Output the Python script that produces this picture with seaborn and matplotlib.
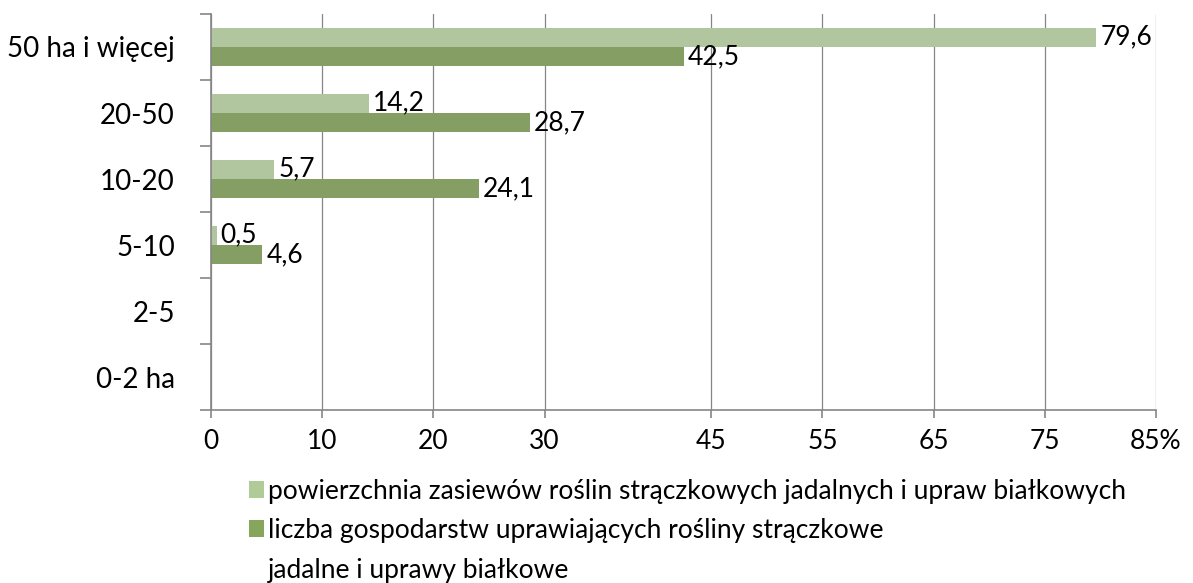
import matplotlib
matplotlib.use("Agg")
import matplotlib.pyplot as plt
from matplotlib.patches import Patch
from matplotlib.ticker import FixedLocator
import seaborn as sns
import pandas as pd

categories = ["50 ha i więcej", "20-50", "10-20", "5-10", "2-5", "0-2 ha"]
area_share = [79.6, 14.2, 5.7, 0.5, 0.0, 0.0]
farm_share = [42.5, 28.7, 24.1, 4.6, 0.0, 0.0]
series_names = [
    "powierzchnia zasiewów roślin strączkowych jadalnych i upraw białkowych",
    "liczba gospodarstw uprawiających rośliny strączkowe",
]
legend_continuation = "jadalne i uprawy białkowe"
x_ticks = [0, 10, 20, 30, 45, 55, 65, 75, 85]
x_tick_labels = ["0", "10", "20", "30", "45", "55", "65", "75", "85%"]
colors = ["#B1CB98", "#86A75B"]

sns.set_style("white")
narrow = ["Lato", "DejaVu Sans"]
plt.rcParams["font.family"] = narrow
plt.rcParams["text.color"] = "black"
plt.rcParams["xtick.color"] = "black"
plt.rcParams["ytick.color"] = "black"

df = pd.DataFrame({
    "kat": categories * 2,
    "val": area_share + farm_share,
    "ser": [series_names[0]] * len(categories) + [series_names[1]] * len(categories),
})

fig = plt.figure(figsize=(11.93, 5.83), dpi=100)
ax = fig.add_axes([211 / 1193, 1 - 410 / 583, (1156 - 211) / 1193, (410 - 14) / 583])

sns.barplot(data=df, x="val", y="kat", hue="ser", order=categories,
            hue_order=series_names, palette=colors, orient="h",
            width=0.59, linewidth=0, errorbar=None, ax=ax, legend=False)

ax.set_xlim(0, 85)
ax.set_ylim(5.5, -0.5)
ax.xaxis.set_major_locator(FixedLocator(x_ticks))
ax.set_xticklabels(x_tick_labels, fontsize=19)
ax.set_xlabel("")
ax.set_ylabel("")
ax.set_yticks(range(len(categories)))
ax.set_yticklabels(categories, fontsize=20)
ax.yaxis.set_minor_locator(FixedLocator([i - 0.5 for i in range(len(categories) + 1)]))
ax.tick_params(axis="y", which="major", length=0, pad=26)
ax.tick_params(axis="y", which="minor", length=8, color="#868686", width=1.2, left=True)
ax.tick_params(axis="x", which="major", length=6, color="#868686", width=1.2, bottom=True, pad=8)

ax.grid(axis="x", color="#868686", linewidth=0.9)
ax.grid(axis="y", visible=False)
ax.set_axisbelow(True)
for s in ["top", "right"]:
    ax.spines[s].set_visible(False)
for s in ["left", "bottom"]:
    ax.spines[s].set_color("#868686")
    ax.spines[s].set_linewidth(1.2)

for cont, vals in zip(ax.containers, [area_share, farm_share]):
    labs = [("%.1f" % v).replace(".", ",") if v > 0 else "" for v in vals]
    ax.bar_label(cont, labels=labs, padding=3, fontsize=19)

handles = [Patch(facecolor=c, edgecolor="none") for c in colors]
handles.append(Patch(facecolor="none", edgecolor="none"))
leg = fig.legend(handles, series_names + [legend_continuation], loc="upper left",
                 bbox_to_anchor=(238 / 1193, 1 - 468 / 583), frameon=False,
                 fontsize=19, handlelength=0.6, handleheight=0.6,
                 handletextpad=0.15, labelspacing=0.55, borderaxespad=0)

fig.savefig("out.png", dpi=100)
